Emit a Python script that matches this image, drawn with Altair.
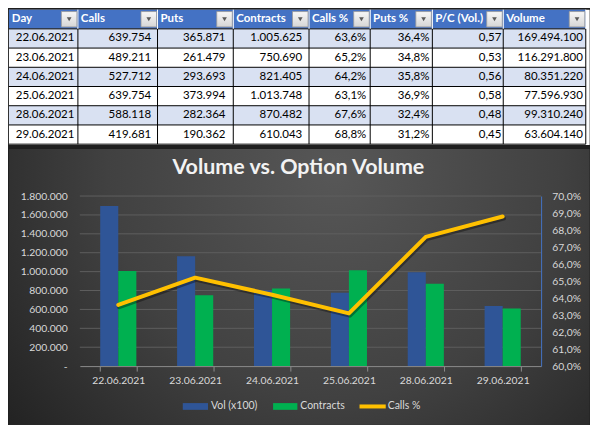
import altair as alt
import pandas as pd

# ---------------- data ----------------
days = ["22.06.2021", "23.06.2021", "24.06.2021", "25.06.2021", "28.06.2021", "29.06.2021"]
calls = [639754, 489211, 527712, 639754, 588118, 419681]
puts = [365871, 261479, 293693, 373994, 282364, 190362]
contracts = [1005625, 750690, 821405, 1013748, 870482, 610043]
calls_pct = [63.6, 65.2, 64.2, 63.1, 67.6, 68.8]
puts_pct = [36.4, 34.8, 35.8, 36.9, 32.4, 31.2]
pc_vol = [0.57, 0.53, 0.56, 0.58, 0.48, 0.45]
volume = [169494100, 116291800, 80351220, 77596930, 99310240, 63604140]
headers = ["Day", "Calls", "Puts", "Contracts", "Calls %", "Puts %", "P/C (Vol.)", "Volume"]
bar_series = ["Vol (x100)", "Contracts"]
line_series = ["Calls %"]
left_ticks = [0, 200000, 400000, 600000, 800000, 1000000, 1200000, 1400000, 1600000, 1800000]
right_ticks = [0.60, 0.61, 0.62, 0.63, 0.64, 0.65, 0.66, 0.67, 0.68, 0.69, 0.70]
title_text = "Volume vs. Option Volume"

# ---------------- layout / style (reference-pixel frame) ----------------
FONT = "Lato"
W, H = 582, 416
REF_W, REF_H = 598, 432
SX, SY = W / REF_W, H / REF_H
PLOT_L, PLOT_R, PLOT_T, PLOT_B = 73, 548, 194, 371      # plot area in the reference frame
PW = (PLOT_R - PLOT_L) * SX
PH = (PLOT_B - PLOT_T) * SY
col_edges = [0, 71, 153, 231, 309, 372, 436, 509, 594]   # table column borders
right_pad = [0, 6.5, 8, 7, 4, 3, 2, 3]
ROW_H = 20
TABLE_BOTTOM = 141
CHART_TOP = 145
legend_swatch_x = [(179, 205), (272, 297)]
legend_line_x = (361, 388)
legend_label_x = [208, 300, 390]
LEGEND_Y = 413
TITLE_XY = (298, 165)

BLUE_HDR = "#4472C4"
ROW_ALT = "#D9E1F2"
BAR_BLUE = "#2F5597"
BAR_GREEN = "#00B050"
GOLD = "#FFC000"
LABEL = "#D9D9D9"

FX = alt.Scale(domain=[0, REF_W], range=[-PLOT_L * SX, (REF_W - PLOT_L) * SX], nice=False, zero=False)
FY = alt.Scale(domain=[0, REF_H], range=[-PLOT_T * SY, (REF_H - PLOT_T) * SY], nice=False, zero=False)


def fx(f):
    return alt.X(f, scale=FX, axis=None)


def fy(f):
    return alt.Y(f, scale=FY, axis=None)


def fmt_int(v):
    return f"{v:,}".replace(",", ".")


def fmt_pct(v):
    return f"{v:.1f}%".replace(".", ",")


def fmt_dec(v):
    return f"{v:.2f}".replace(".", ",")


# ---------------- frame layer: background, table, title, legend ----------------
bg = alt.Chart(pd.DataFrame({"x0": [0], "x1": [REF_W], "y0": [CHART_TOP], "y1": [REF_H]})).mark_rect(
    color=alt.Gradient(gradient="radial", x1=0.56, y1=0.3, r1=0, x2=0.56, y2=0.3, r2=0.78,
                       stops=[alt.GradientStop(color="#575757", offset=0),
                              alt.GradientStop(color="#414141", offset=0.5),
                              alt.GradientStop(color="#1C1C1C", offset=1)])).encode(
    x=fx("x0:Q"), x2="x1:Q", y=fy("y0:Q"), y2="y1:Q")

white_bg = alt.Chart(pd.DataFrame({"x0": [0], "x1": [REF_W], "y0": [0], "y1": [TABLE_BOTTOM]})).mark_rect(
    color="white").encode(x=fx("x0:Q"), x2="x1:Q", y=fy("y0:Q"), y2="y1:Q")

cells = []
for r in range(7):
    for c in range(8):
        fill = BLUE_HDR if r == 0 else (ROW_ALT if r % 2 == 1 else "#FFFFFF")
        cells.append({"x0": col_edges[c], "x1": col_edges[c + 1],
                      "y0": r * ROW_H, "y1": (r + 1) * ROW_H, "fill": fill})
cell_rects = alt.Chart(pd.DataFrame(cells)).mark_rect().encode(
    x=fx("x0:Q"), x2="x1:Q", y=fy("y0:Q"), y2="y1:Q", color=alt.Color("fill:N", scale=None))

vlines = []
for c in range(1, 9):
    vlines.append({"x": col_edges[c], "y0": ROW_H, "y1": 7 * ROW_H, "col": "#000000"})
    vlines.append({"x": col_edges[c], "y0": 0, "y1": ROW_H, "col": "#FFFFFF"})
hlines = [{"x0": 0, "x1": col_edges[-1], "y": r * ROW_H, "col": "#000000"} for r in range(1, 8)]
vrules = alt.Chart(pd.DataFrame(vlines)).mark_rule(strokeWidth=1).encode(
    x=fx("x:Q"), y=fy("y0:Q"), y2="y1:Q", color=alt.Color("col:N", scale=None))
hrules = alt.Chart(pd.DataFrame(hlines)).mark_rule(strokeWidth=1).encode(
    x=fx("x0:Q"), x2="x1:Q", y=fy("y:Q"), color=alt.Color("col:N", scale=None))

btn_df = pd.DataFrame({
    "bx0": [col_edges[c + 1] - 17 for c in range(8)],
    "bx1": [col_edges[c + 1] - 1 for c in range(8)],
    "bxc": [col_edges[c + 1] - 9 for c in range(8)],
    "by0": [2] * 8, "by1": [18] * 8, "byc": [10] * 8,
})
btn_box = alt.Chart(btn_df).mark_rect(
    color=alt.Gradient(gradient="linear", x1=0, y1=0, x2=0, y2=1,
                       stops=[alt.GradientStop(color="#F7F7F7", offset=0),
                              alt.GradientStop(color="#D6D6D6", offset=1)]),
    stroke="#9A9A9A", strokeWidth=0.8).encode(x=fx("bx0:Q"), x2="bx1:Q", y=fy("by0:Q"), y2="by1:Q")
btn_tri = alt.Chart(btn_df).mark_point(shape="triangle-down", filled=True, size=22,
                                       color="#5A5A5A", opacity=1).encode(x=fx("bxc:Q"), y=fy("byc:Q"))

hdr_df = pd.DataFrame({"x": [col_edges[c] + 3 for c in range(8)], "y": [10] * 8, "t": headers})
hdr_text = alt.Chart(hdr_df).mark_text(align="left", baseline="middle", font=FONT, fontSize=11.5,
                                       fontWeight="bold", color="white").encode(
    x=fx("x:Q"), y=fy("y:Q"), text="t:N")

day_df = pd.DataFrame({"x": [col_edges[0] + 7] * 6, "y": [(r + 1.5) * ROW_H for r in range(6)], "t": days})
day_text = alt.Chart(day_df).mark_text(align="left", baseline="middle", font=FONT, fontSize=11.5,
                                       color="#000000").encode(x=fx("x:Q"), y=fy("y:Q"), text="t:N")

num_cols = [
    [fmt_int(v) for v in calls],
    [fmt_int(v) for v in puts],
    [fmt_int(v) for v in contracts],
    [fmt_pct(v) for v in calls_pct],
    [fmt_pct(v) for v in puts_pct],
    [fmt_dec(v) for v in pc_vol],
    [fmt_int(v) for v in volume],
]
num_rows = []
for ci, col in enumerate(num_cols):
    c = ci + 1
    for r, t in enumerate(col):
        num_rows.append({"x": col_edges[c + 1] - right_pad[c], "y": (r + 1.5) * ROW_H, "t": t})
num_text = alt.Chart(pd.DataFrame(num_rows)).mark_text(align="right", baseline="middle", font=FONT,
                                                      fontSize=11.5, color="#000000").encode(
    x=fx("x:Q"), y=fy("y:Q"), text="t:N")

title = alt.Chart(pd.DataFrame({"x": [TITLE_XY[0]], "y": [TITLE_XY[1]], "t": [title_text]})).mark_text(
    font=FONT, fontSize=21.5, fontWeight="bold", color="#F2F2F2", align="center", baseline="middle").encode(
    x=fx("x:Q"), y=fy("y:Q"), text="t:N")

# legend (manual, so that swatch shapes match: boxes for bars, a line for the line series)
leg_box_df = pd.DataFrame({"x0": [a for a, b in legend_swatch_x], "x1": [b for a, b in legend_swatch_x],
                           "y0": [LEGEND_Y - 3.5] * 2, "y1": [LEGEND_Y + 3.5] * 2,
                           "col": [BAR_BLUE, BAR_GREEN]})
leg_box = alt.Chart(leg_box_df).mark_rect().encode(
    x=fx("x0:Q"), x2="x1:Q", y=fy("y0:Q"), y2="y1:Q", color=alt.Color("col:N", scale=None))
leg_line_df = pd.DataFrame({"x0": [legend_line_x[0]], "x1": [legend_line_x[1]], "y": [LEGEND_Y]})
leg_line = alt.Chart(leg_line_df).mark_rule(color=GOLD, strokeWidth=4).encode(
    x=fx("x0:Q"), x2="x1:Q", y=fy("y:Q"))
leg_text_df = pd.DataFrame({"x": legend_label_x, "y": [LEGEND_Y] * 3, "t": bar_series + line_series})
leg_text = alt.Chart(leg_text_df).mark_text(align="left", baseline="middle", font=FONT, fontSize=10.5,
                                            color=LABEL).encode(x=fx("x:Q"), y=fy("y:Q"), text="t:N")

frame_layer = alt.layer(bg, white_bg, cell_rects, hrules, vrules, btn_box, btn_tri, hdr_text,
                        day_text, num_text, title, leg_box, leg_line, leg_text)

# ---------------- data layer: bars + line ----------------
bar_rows = []
for i, d in enumerate(days):
    bar_rows.append({"day": d, "series": bar_series[0], "value": volume[i] / 100})
    bar_rows.append({"day": d, "series": bar_series[1], "value": contracts[i]})
bar_df = pd.DataFrame(bar_rows)
line_df = pd.DataFrame({"day": days, "series": line_series * len(days),
                        "pct": [v / 100 for v in calls_pct]})
grid_df = pd.DataFrame({"value": left_ticks[1:]})

x_scale = alt.Scale(domain=days, paddingInner=0.53, paddingOuter=0.265)
x_axis = alt.Axis(title=None, labelAngle=0, labelFont=FONT, labelFontSize=10.4, labelColor=LABEL,
                  domainColor="#8C8C8C", tickColor="#8C8C8C", tickSize=5, tickBand="extent",
                  labelPadding=4, grid=False, zindex=1)
x_enc = alt.X("day:N", scale=x_scale, axis=x_axis, sort=days)

y_left_scale = alt.Scale(domain=[0, 1800000], nice=False, zero=True)
y_left_axis = alt.Axis(title=None, values=left_ticks, format=",.0f",
                       labelExpr="datum.value == 0 ? '-' : datum.label",
                       labelFont=FONT, labelFontSize=10.4, labelColor=LABEL,
                       domain=False, ticks=False, grid=False, labelPadding=(PLOT_L - 60) * SX, zindex=1)
y_left = alt.Y("value:Q", scale=y_left_scale, axis=y_left_axis)

grid = alt.Chart(grid_df).mark_rule(color="#5E5E5E", strokeWidth=1).encode(y=y_left)
bars = alt.Chart(bar_df).mark_bar().encode(
    x=x_enc,
    xOffset=alt.XOffset("series:N", sort=bar_series, scale=alt.Scale(domain=bar_series)),
    y=y_left,
    color=alt.Color("series:N", scale=alt.Scale(domain=bar_series, range=[BAR_BLUE, BAR_GREEN]),
                    legend=None),
)
left_layer = alt.layer(grid, bars)

y_right = alt.Y("pct:Q", scale=alt.Scale(domain=[0.60, 0.70], nice=False, zero=False),
                axis=alt.Axis(title=None, orient="right", values=right_ticks, format=".1%",
                              labelFont=FONT, labelFontSize=10.4, labelColor=LABEL,
                              domainColor="#4472C4", domainWidth=1, ticks=False, grid=False,
                              labelPadding=10.7, zindex=1))
shadow = alt.Chart(line_df).mark_line(color="black", opacity=0.35, strokeWidth=4.5, strokeCap="round",
                                      strokeJoin="round", xOffset=1, yOffset=2).encode(x=x_enc, y=y_right)
line = alt.Chart(line_df).mark_line(color=GOLD, strokeWidth=4, strokeCap="round",
                                    strokeJoin="round").encode(x=x_enc, y=y_right)
right_layer = alt.layer(shadow, line)

data_layer = alt.layer(left_layer, right_layer).resolve_scale(y="independent")

chart = alt.layer(frame_layer, data_layer).resolve_scale(
    x="independent", y="independent"
).properties(
    width=PW, height=PH, padding=0, background="#1F1F1F"
).configure_view(stroke=None).configure(
    locale={"number": {"decimal": ",", "thousands": ".", "grouping": [3], "currency": ["", " €"]}}
)

chart.save("out.html", embed_options={"renderer": "svg", "actions": False})
